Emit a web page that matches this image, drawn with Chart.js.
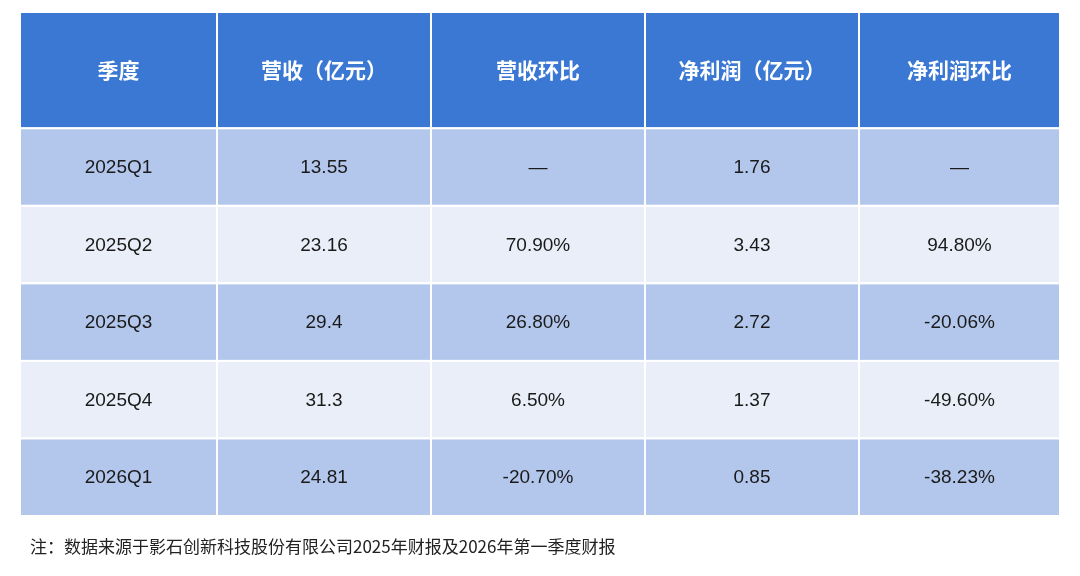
<!DOCTYPE html>
<html><head><meta charset="utf-8">
<script src="https://cdn.jsdelivr.net/npm/chart.js@4/dist/chart.umd.min.js"></script>
<style>
body{margin:0;background:#fff;font-family:"Noto Sans CJK SC",sans-serif}
#wrap{position:relative;width:1080px;height:576px}
#note{position:absolute;left:30px;top:533px;font-size:17px;color:#222}
</style></head><body>
<div id="wrap"><canvas id="c" width="1080" height="576"></canvas>
<div id="note">注：数据来源于影石创新科技股份有限公司2025年财报及2026年第一季度财报</div></div>
<script>
// table data
const headers = ['季度', '营收（亿元）', '营收环比', '净利润（亿元）', '净利润环比'];
const quarters = ['2025Q1', '2025Q2', '2025Q3', '2025Q4', '2026Q1'];
const revenue = ['13.55', '23.16', '29.4', '31.3', '24.81'];
const revenueQoQ = ['—', '70.90%', '26.80%', '6.50%', '-20.70%'];
const profit = ['1.76', '3.43', '2.72', '1.37', '0.85'];
const profitQoQ = ['—', '94.80%', '-20.06%', '-49.60%', '-38.23%'];

const columns = [quarters, revenue, revenueQoQ, profit, profitQoQ];
const colWidths = [197, 214, 214, 214, 201];
const headerH = 1.5;

const tablePlugin = {
  id: 'table',
  afterDraw(chart) {
    const { ctx, scales: { x, y } } = chart;
    ctx.save();
    let x0 = 0;
    colWidths.forEach((w, c) => {
      const px0 = x.getPixelForValue(x0), px1 = x.getPixelForValue(x0 + w);
      for (let r = -1; r < quarters.length; r++) {
        const y0 = r < 0 ? 0 : headerH + r, y1 = r < 0 ? headerH : headerH + r + 1;
        const py0 = y.getPixelForValue(y0), py1 = y.getPixelForValue(y1);
        ctx.fillStyle = r < 0 ? '#3a78d3' : (r % 2 === 0 ? '#b3c7ec' : '#e9eef8');
        ctx.fillRect(px0, py0, px1 - px0, py1 - py0);
        ctx.strokeStyle = '#ffffff';
        ctx.lineWidth = 2;
        ctx.strokeRect(px0, py0, px1 - px0, py1 - py0);
        ctx.textAlign = 'center';
        ctx.textBaseline = 'middle';
        if (r < 0) {
          ctx.fillStyle = '#ffffff';
          ctx.font = 'bold 21px "Noto Sans CJK SC", sans-serif';
          ctx.fillText(headers[c], (px0 + px1) / 2, (py0 + py1) / 2);
        } else {
          ctx.fillStyle = '#1a1a1a';
          ctx.font = '19px "Liberation Sans", Arial, sans-serif';
          ctx.fillText(columns[c][r], (px0 + px1) / 2, (py0 + py1) / 2 + 1);
        }
      }
      x0 += w;
    });
    ctx.restore();
  }
};

new Chart(document.getElementById('c').getContext('2d'), {
  type: 'scatter',
  data: { datasets: [{ data: [] }] },
  options: {
    responsive: false,
    animation: false,
    layout: { padding: { left: 20, right: 20, top: 12, bottom: 60 } },
    plugins: { legend: { display: false }, tooltip: { enabled: false } },
    scales: {
      x: { type: 'linear', display: false, min: 0, max: 1040 },
      y: { type: 'linear', display: false, reverse: true, min: 0, max: headerH + quarters.length }
    }
  },
  plugins: [tablePlugin]
});
</script></body></html>
